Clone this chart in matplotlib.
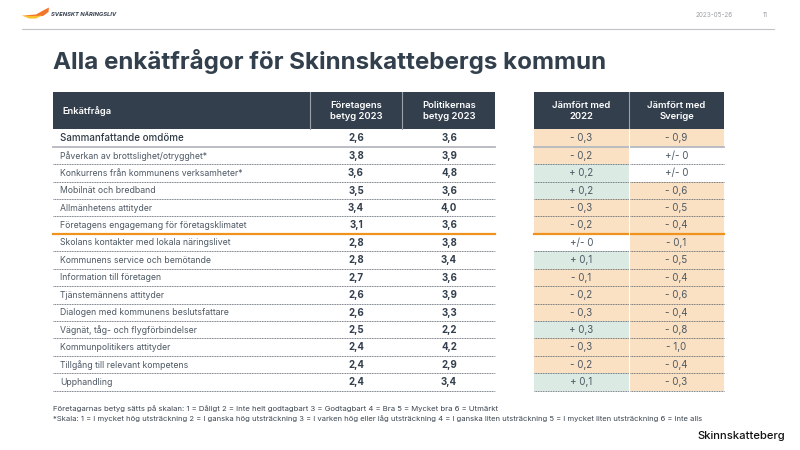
import matplotlib
matplotlib.use("Agg")
import matplotlib.pyplot as plt
from matplotlib.patches import Rectangle, Polygon

plt.rcParams['font.family'] = ['Inter', 'DejaVu Sans']

questions = ["Sammanfattande omdöme", "Påverkan av brottslighet/otrygghet*",
             "Konkurrens från kommunens verksamheter*", "Mobilnät och bredband",
             "Allmänhetens attityder", "Företagens engagemang för företagsklimatet",
             "Skolans kontakter med lokala näringslivet", "Kommunens service och bemötande",
             "Information till företagen", "Tjänstemännens attityder",
             "Dialogen med kommunens beslutsfattare", "Vägnät, tåg- och flygförbindelser",
             "Kommunpolitikers attityder", "Tillgång till relevant kompetens", "Upphandling"]
foretag = [2.6, 3.8, 3.6, 3.5, 3.4, 3.1, 2.8, 2.8, 2.7, 2.6, 2.6, 2.5, 2.4, 2.4, 2.4]
politiker = [3.6, 3.9, 4.8, 3.6, 4.0, 3.6, 3.8, 3.4, 3.6, 3.9, 3.3, 2.2, 4.2, 2.9, 3.4]
vs_2022 = [-0.3, -0.2, 0.2, 0.2, -0.3, -0.2, 0.0, 0.1, -0.1, -0.2, -0.3, 0.3, -0.3, -0.2, 0.1]
vs_sverige = [-0.9, 0.0, 0.0, -0.6, -0.5, -0.4, -0.1, -0.5, -0.4, -0.6, -0.4, -0.8, -1.0, -0.4, -0.3]

DARK = "#333f4d"
TEXT = "#4d5863"
ORANGE = "#f0921e"
NEG = "#fae1c3"
POS = "#dbebe3"

fig = plt.figure(figsize=(8, 4.5), dpi=100)
ax = fig.add_axes([0, 0, 1, 1])
ax.set_xlim(0, 800)
ax.set_ylim(450, 0)
ax.axis("off")


def diff_label(v):
    if v == 0:
        return "+/- 0"
    sign = "+" if v > 0 else "-"
    return "{} {}".format(sign, "{:.1f}".format(abs(v)).replace(".", ","))


def diff_color(v):
    if v == 0:
        return "white"
    return POS if v > 0 else NEG


# top of page
ax.plot([22, 774], [29.3, 29.3], color="#c0c4c9", lw=0.8)
ax.text(714, 15, "2023-05-26", fontsize=4.6, color="#9a9fa5", ha="center", va="center")
ax.text(765, 15, "11", fontsize=4.6, color="#9a9fa5", ha="center", va="center")
ax.add_patch(Polygon([(22, 15.5), (36, 14.5), (44, 10), (49, 7.5), (48.5, 12), (43, 16), (34, 16.5)],
                     fc="#f0762a", ec="none"))
ax.add_patch(Polygon([(22, 15.5), (34, 16), (42, 15.5), (36, 18.5), (29, 18.5)], fc="#fbc02d", ec="none"))
ax.text(51, 14, "SVENSKT NÄRINGSLIV", fontsize=4.2, fontweight="bold", style="italic",
        color=DARK, va="center")
ax.text(53, 61, "Alla enkätfrågor för Skinnskattebergs kommun", fontsize=17.4, fontweight="bold",
        color="#323f4c", va="center")

# header
header_top = 92
header_bot = 129.3
ax.add_patch(Rectangle((53, header_top), 442, header_bot - header_top, fc=DARK, ec="none"))
ax.add_patch(Rectangle((534, header_top), 190, header_bot - header_top, fc=DARK, ec="none"))
for x in [310, 402, 629]:
    ax.plot([x, x], [header_top, header_bot], color="#9aa1a8", lw=0.8)
ax.text(62, 110.7, "Enkätfråga", fontsize=6.7, fontweight="semibold", color="white", va="center")
for x, label in [(356, "Företagens\nbetyg 2023"), (449, "Politikernas\nbetyg 2023"),
                 (581.5, "Jämfört med\n2022"), (676.5, "Jämfört med\nSverige")]:
    ax.text(x, 110.7, label, fontsize=6.8, fontweight="semibold", color="white",
            ha="center", va="center", linespacing=1.3)

# rows
first_bot = 146.7
row_h = 17.43
for i, q in enumerate(questions):
    bot = first_bot + i * row_h
    top = header_bot if i == 0 else bot - row_h
    mid = (top + bot) / 2 + 0.3

    ax.add_patch(Rectangle((534, top), 94.5, bot - top, fc=diff_color(vs_2022[i]), ec="none"))
    ax.add_patch(Rectangle((629.5, top), 94.5, bot - top, fc=diff_color(vs_sverige[i]), ec="none"))

    if i == 0:
        ax.text(60, mid, q, fontsize=7.0, fontweight="medium", color="#2f3a46", va="center")
    else:
        ax.text(60, mid, q, fontsize=6.25, color=TEXT, va="center")
    ax.text(356, mid, "{:.1f}".format(foretag[i]).replace(".", ","), fontsize=7.0,
            fontweight="bold", color=DARK, ha="center", va="center")
    ax.text(449, mid, "{:.1f}".format(politiker[i]).replace(".", ","), fontsize=7.0,
            fontweight="bold", color=DARK, ha="center", va="center")
    ax.text(581.5, mid, diff_label(vs_2022[i]), fontsize=7.0, color=TEXT,
            ha="center", va="center")
    ax.text(676.5, mid, diff_label(vs_sverige[i]), fontsize=7.0, color=TEXT,
            ha="center", va="center")

    # row separators
    if i == 0:
        style = dict(color="#b4b9bf", lw=1.3, ls="-")
    elif i == 5:
        style = dict(color=ORANGE, lw=1.6, ls="-")
    else:
        style = dict(color="#59636e", lw=0.6, ls=(0, (1.2, 0.8)))
    ax.plot([53, 495], [bot, bot], **style)
    ax.plot([534, 628.5], [bot, bot], **style)
    ax.plot([629.5, 724], [bot, bot], **style)

# white gap between the two compare columns
ax.plot([629, 629], [header_bot, first_bot + 14 * row_h], color="white", lw=0.8)

# footnotes
ax.text(53, 408.5, "Företagarnas betyg sätts på skalan: 1 = Dåligt 2 = Inte helt godtagbart 3 = Godtagbart "
        "4 = Bra 5 = Mycket bra 6 = Utmärkt", fontsize=5.58, color="#3c4650", va="center")
ax.text(53, 418.5, "*Skala: 1 = I mycket hög utsträckning 2 = I ganska hög utsträckning 3 = I varken hög eller "
        "låg utsträckning 4 = I ganska liten utsträckning 5 = I mycket liten utsträckning 6 = Inte alls",
        fontsize=5.5, color="#3c4650", va="center")
ax.text(785, 436, "Skinnskatteberg", fontsize=8.1, fontweight="medium", color="#111111",
        ha="right", va="center")

fig.savefig("out.png", dpi=100)
